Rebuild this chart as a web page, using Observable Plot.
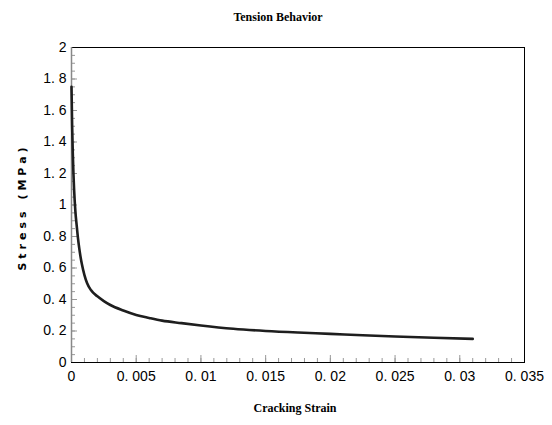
<!DOCTYPE html>
<html><head><meta charset="utf-8">
<script src="https://cdn.jsdelivr.net/npm/d3@7"></script>
<script src="https://cdn.jsdelivr.net/npm/@observablehq/plot@0.6"></script>
<style>body{margin:0;background:#fff}</style>
</head><body><div id="chart"></div>
<script>
const strain = [0, 0.00005, 0.0001, 0.00015, 0.0002, 0.0003, 0.0004, 0.0005, 0.0006, 0.0007, 0.0008, 0.001, 0.0012, 0.0015, 0.002, 0.0025, 0.003, 0.004, 0.005, 0.006, 0.007, 0.0085, 0.01, 0.0125, 0.015, 0.0175, 0.02, 0.0225, 0.025, 0.028, 0.031];
const stress = [1.75, 1.5, 1.33, 1.2, 1.1, 0.96, 0.87, 0.79, 0.725, 0.67, 0.625, 0.555, 0.505, 0.46, 0.42, 0.39, 0.365, 0.33, 0.302, 0.283, 0.266, 0.25, 0.235, 0.214, 0.2, 0.19, 0.182, 0.173, 0.165, 0.157, 0.15];
const xTicks = [0, 0.005, 0.01, 0.015, 0.02, 0.025, 0.03, 0.035];
const xTickLabels = ["0", "0. 005", "0. 01", "0. 015", "0. 02", "0. 025", "0. 03", "0. 035"];
const yTicks = [0, 0.2, 0.4, 0.6, 0.8, 1, 1.2, 1.4, 1.6, 1.8, 2];
const yTickLabels = ["0", "0. 2", "0. 4", "0. 6", "0. 8", "1", "1. 2", "1. 4", "1. 6", "1. 8", "2"];
const xMinor = d3.ticks(0, 0.035, 35);
const yMinor = d3.ticks(0, 2, 50);
const title = "Tension Behavior";
const xLabel = "Cracking Strain";
const yLabel = "Stress (MPa)";

const data = strain.map((s, i) => ({strain: s, stress: stress[i]}));
const W = 552, H = 425, mL = 71, mR = 28, mT = 47, mB = 63;
const pw = W - mL - mR, ph = H - mT - mB;
const tickFont = "Liberation Sans";

const chart = Plot.plot({
  width: W, height: H,
  marginLeft: mL, marginRight: mR, marginTop: mT, marginBottom: mB,
  style: {background: "#fff", color: "#000"},
  x: {domain: [0, 0.035]},
  y: {domain: [0, 2]},
  marks: [
    Plot.tickX(xMinor, {x: d => d, stroke: "#999", insetTop: ph - 4}),
    Plot.tickX(xTicks, {x: d => d, stroke: "#999", insetTop: ph - 7}),
    Plot.tickY(yMinor, {y: d => d, stroke: "#999", insetRight: pw - 4}),
    Plot.tickY(yTicks, {y: d => d, stroke: "#999", insetRight: pw - 6}),
    Plot.frame({stroke: "#000"}),
    Plot.ruleX([0], {stroke: "#888", strokeWidth: 1.5}),
    Plot.axisX({ticks: xTicks, tickSize: 0, tickPadding: 9, label: null,
      tickFormat: d => xTickLabels[xTicks.indexOf(d)], fontSize: 14, fontFamily: tickFont}),
    Plot.axisY({ticks: yTicks, tickSize: 0, tickPadding: 5, label: null,
      tickFormat: d => yTickLabels[yTicks.indexOf(d)], fontSize: 14, fontFamily: tickFont}),
    Plot.line(data, {x: "strain", y: "stress", stroke: "#1e1e1e", strokeWidth: 2.6, curve: "monotone-x"}),
    Plot.text([title], {text: d => d, frameAnchor: "top", dx: -20, dy: -35, fontWeight: "bold", fontFamily: "Liberation Serif", fontSize: 12}),
    Plot.text([xLabel], {text: d => d, frameAnchor: "bottom", dx: -3, dy: 49, fontWeight: "bold", fontFamily: "Liberation Serif", fontSize: 12}),
    Plot.text([yLabel], {text: d => d, frameAnchor: "left", textAnchor: "middle", dx: -49, dy: 2, rotate: -90, fontWeight: "bold", fontFamily: "DejaVu Sans", fontSize: 11})
  ]
});
d3.select(chart).selectAll("text").filter(function() { return this.textContent === yLabel; })
  .style("letter-spacing", "4px");
document.getElementById("chart").appendChild(chart);
</script>
</body></html>
